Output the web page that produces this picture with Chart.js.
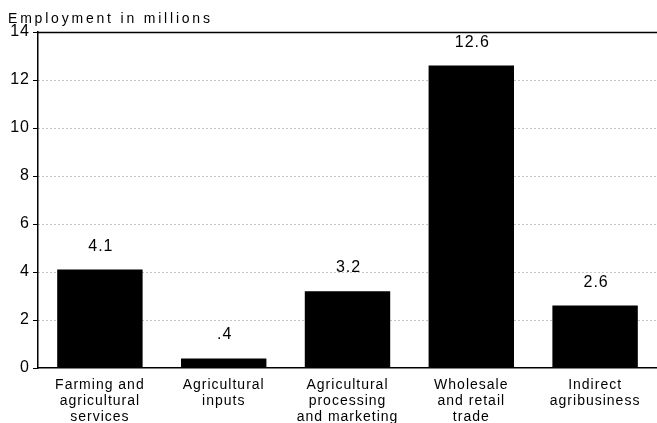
<!DOCTYPE html>
<html><head><meta charset="utf-8">
<script src="https://cdn.jsdelivr.net/npm/chart.js@4"></script>
<style>html,body{margin:0;padding:0;background:#fff}#w{width:657px;height:423px}</style>
</head><body><div id="w"><canvas id="c" width="657" height="423"></canvas></div>
<script>
const categories = [
  ["Farming and", "agricultural", "services"],
  ["Agricultural", "inputs"],
  ["Agricultural", "processing", "and marketing"],
  ["Wholesale", "and retail", "trade"],
  ["Indirect", "agribusiness"]
];
const values = [4.1, 0.4, 3.2, 12.6, 2.6];
const valueLabels = ["4.1", ".4", "3.2", "12.6", "2.6"];
const yTicks = [0, 2, 4, 6, 8, 10, 12, 14];
const axisTitle = "Employment in millions";
const FONT = "'Liberation Sans', Arial, sans-serif";

const extras = {
  id: 'extras',
  beforeDraw(chart) {
    chart.ctx.letterSpacing = '1px';
  },
  afterDraw(chart) {
    const {ctx, chartArea: a} = chart;
    const y = chart.scales.y;
    ctx.save();
    ctx.strokeStyle = '#000';
    ctx.lineWidth = 1.5;
    ctx.beginPath();
    ctx.moveTo(a.left, Math.round(y.getPixelForValue(14)) + 0.5);
    ctx.lineTo(a.right, Math.round(y.getPixelForValue(14)) + 0.5);
    ctx.stroke();
    ctx.fillStyle = '#000';
    ctx.letterSpacing = '2.8px';
    ctx.font = "14px " + FONT;
    ctx.textBaseline = 'alphabetic';
    ctx.textAlign = 'left';
    ctx.fillText(axisTitle, 8, 23);
    ctx.letterSpacing = '1px';
    ctx.font = "16px " + FONT;
    ctx.textAlign = 'center';
    const meta = chart.getDatasetMeta(0);
    meta.data.forEach((bar, i) => {
      ctx.fillText(valueLabels[i], bar.x + 1, bar.y - 19);
    });
    ctx.restore();
  }
};

new Chart(document.getElementById('c'), {
  type: 'bar',
  data: {
    labels: categories,
    datasets: [{
      data: values,
      backgroundColor: '#000',
      borderWidth: 0,
      barPercentage: 0.69,
      categoryPercentage: 1.0
    }]
  },
  options: {
    responsive: false,
    animation: false,
    devicePixelRatio: 1,
    layout: { padding: { top: 32, right: 0, left: 0, bottom: 0 } },
    plugins: { legend: { display: false }, tooltip: { enabled: false } },
    scales: {
      x: {
        grid: { display: false },
        border: { display: true, color: '#000', width: 1.5 },
        ticks: {
          color: '#000',
          font: { family: FONT, size: 14, lineHeight: 1.15 },
          padding: 1,
          maxRotation: 0,
          autoSkip: false
        },
        afterFit(s) { s.height = 55; }
      },
      y: {
        min: 0, max: 14,
        afterBuildTicks(s) { s.ticks = yTicks.map(v => ({ value: v })); },
        grid: {
          color: (c) => (c.tick && (c.tick.value === 0 || c.tick.value === 14)) ? 'rgba(0,0,0,0)' : '#888',
          lineWidth: 1,
          drawTicks: true,
          tickLength: 5,
          tickColor: '#000',
          tickBorderDash: []
        },
        border: { display: true, color: '#000', width: 1.5, dash: [1, 3] },
        ticks: {
          color: '#000',
          font: { family: FONT, size: 16 },
          padding: 3,
          callback: (v) => String(v)
        },
        afterFit(s) { s.width = 38; }
      }
    }
  },
  plugins: [extras]
});
</script>
</body></html>
